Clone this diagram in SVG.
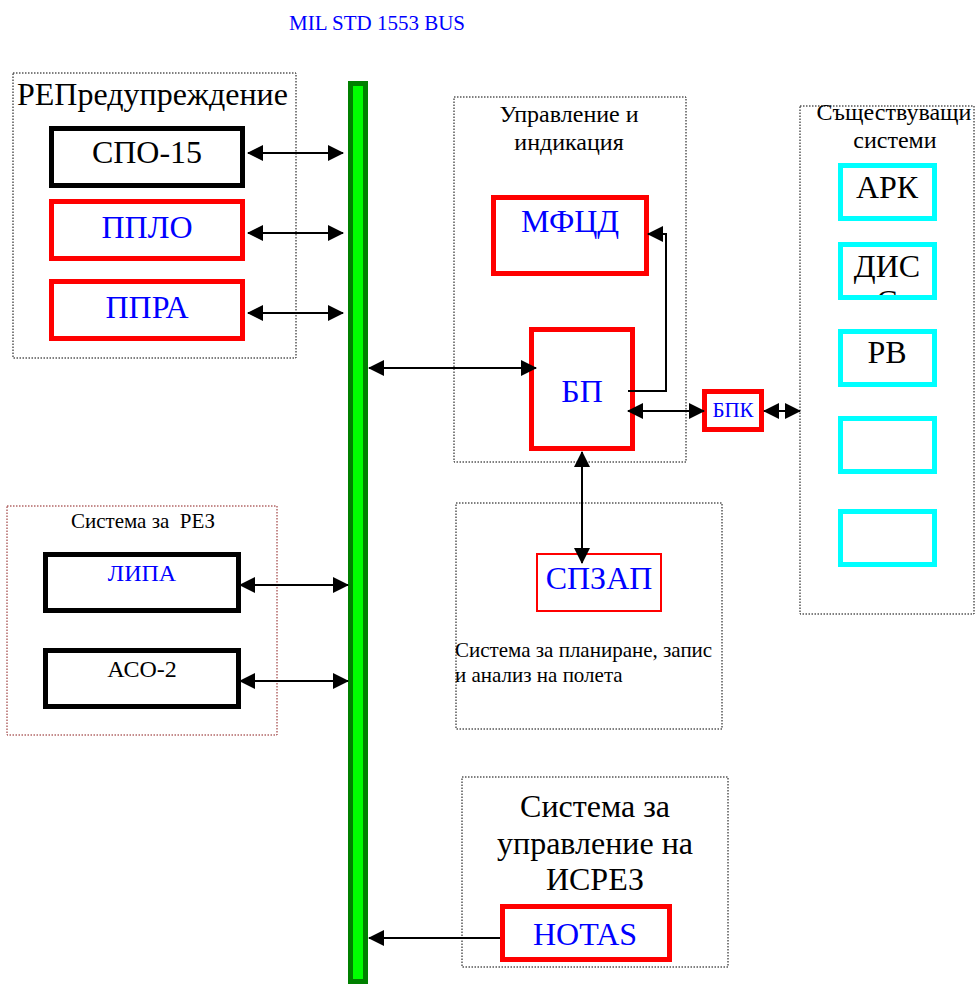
<svg xmlns="http://www.w3.org/2000/svg" width="975" height="985" viewBox="0 0 975 985">
<style>
text{font-family:"Liberation Serif","Times New Roman",serif;}
.grp{fill:none;stroke:#000;stroke-width:1;stroke-dasharray:1.5 1.5;}
.grpr{fill:none;stroke:#8b1a1a;stroke-width:1;stroke-dasharray:1.5 1.5;}
.bk{fill:#fff;stroke:#000;stroke-width:5;}
.rd{fill:#fff;stroke:#f00;stroke-width:5;}
.cy{fill:#fff;stroke:#0ff;stroke-width:5;}
.conn{fill:none;stroke:#000;stroke-width:2;}
.bl{fill:#00f;}
.k{fill:#000;}
.m{text-anchor:middle;}
</style>
<defs>
<marker id="ah" markerUnits="userSpaceOnUse" markerWidth="16" markerHeight="16" viewBox="0 0 16 16" refX="15" refY="8" orient="auto-start-reverse">
<path d="M0,0 L16,8 L0,16 z" fill="#000"/>
</marker>
<clipPath id="disclip"><rect x="843" y="247" width="89" height="48"/></clipPath>
</defs>

<text x="377" y="30" font-size="21" class="bl m">MIL STD 1553 BUS</text>

<g id="bus">
<rect x="350.5" y="83.5" width="15" height="898" fill="#00ff00" stroke="#008000" stroke-width="5"/>
</g>

<g id="rep-group">
<rect class="grp" x="13" y="73" width="283" height="285"/>
<text x="17" y="105" font-size="32" class="k">РЕПредупреждение</text>
</g>
<g id="spo15">
<rect class="bk" x="51.5" y="128.5" width="191" height="57"/>
<text x="147" y="163" font-size="32" class="k m">СПО-15</text>
</g>
<g id="pplo">
<rect class="rd" x="51.5" y="201.5" width="191" height="57"/>
<text x="147" y="238" font-size="32" class="bl m">ППЛО</text>
</g>
<g id="ppra">
<rect class="rd" x="51.5" y="281.5" width="191" height="57"/>
<text x="147" y="318" font-size="32" class="bl m">ППРА</text>
</g>

<g id="ui-group">
<rect class="grp" x="454" y="97" width="232" height="365"/>
<text x="569" y="122" font-size="24" class="k m">Управление и</text>
<text x="569" y="150" font-size="24" class="k m">индикация</text>
</g>
<g id="mfcd">
<rect class="rd" x="493.5" y="197.5" width="153" height="76"/>
<text x="570" y="232" font-size="32" class="bl m">МФЦД</text>
</g>
<g id="bp">
<rect class="rd" x="531.5" y="329.5" width="101" height="119"/>
<text x="582" y="402" font-size="32" class="bl m">БП</text>
</g>
<g id="bpk">
<rect class="rd" x="704.5" y="391.5" width="57" height="38"/>
<text x="733" y="417" font-size="21" class="bl m">БПК</text>
</g>

<g id="existing-group">
<rect class="grp" x="800" y="106" width="174" height="508"/>
<text x="894" y="120" font-size="24" class="k m">Съществуващи</text>
<text x="895" y="148" font-size="24" class="k m">системи</text>
</g>
<g id="ark">
<rect class="cy" x="840.5" y="165.5" width="94" height="53"/>
<text x="887" y="198" font-size="32" class="k m">АРК</text>
</g>
<g id="dis">
<rect class="cy" x="840.5" y="244.5" width="94" height="53"/>
<text x="887" y="277" font-size="32" class="k m">ДИС</text>
<text x="887" y="312" font-size="32" class="k m" clip-path="url(#disclip)">С</text>
</g>
<g id="rv">
<rect class="cy" x="840.5" y="331.5" width="94" height="53"/>
<text x="887" y="363" font-size="32" class="k m">РВ</text>
</g>
<g id="sys4">
<rect class="cy" x="840.5" y="418.5" width="94" height="53"/>
</g>
<g id="sys5">
<rect class="cy" x="840.5" y="511.5" width="94" height="53"/>
</g>

<g id="rez-group">
<rect class="grpr" x="7" y="506" width="270" height="229"/>
<text x="143" y="528" font-size="21" class="k m" xml:space="preserve" style="white-space:pre">Система за  РЕЗ</text>
</g>
<g id="lipa">
<rect class="bk" x="45.5" y="554.5" width="193" height="56"/>
<text x="142" y="581" font-size="24" class="bl m">ЛИПА</text>
</g>
<g id="aso2">
<rect class="bk" x="45.5" y="650.5" width="193" height="56"/>
<text x="142" y="677" font-size="24" class="k m">АСО-2</text>
</g>

<g id="spzap-group">
<rect class="grp" x="456" y="503" width="266" height="226"/>
<text x="455" y="657" font-size="21" class="k">Система за планиране, запис</text>
<text x="455" y="682" font-size="21" class="k">и анализ на полета</text>
</g>
<g id="spzap">
<rect x="537" y="554" width="124" height="57" fill="#fff" stroke="#f00" stroke-width="2"/>
<text x="599" y="589" font-size="32" class="bl m">СПЗАП</text>
</g>

<g id="isrez-group">
<rect class="grp" x="462" y="777" width="266" height="190"/>
<text x="595" y="817" font-size="32" class="k m">Система за</text>
<text x="595" y="854" font-size="32" class="k m">управление на</text>
<text x="595" y="890" font-size="32" class="k m">ИСРЕЗ</text>
</g>
<g id="hotas">
<rect class="rd" x="502.5" y="906.5" width="167" height="53"/>
<text x="585" y="945" font-size="32" class="bl m">HOTAS</text>
</g>

<g id="connectors">
<line class="conn" x1="248" y1="153" x2="343" y2="153" marker-start="url(#ah)" marker-end="url(#ah)"/>
<line class="conn" x1="248" y1="233" x2="343" y2="233" marker-start="url(#ah)" marker-end="url(#ah)"/>
<line class="conn" x1="248" y1="313" x2="343" y2="313" marker-start="url(#ah)" marker-end="url(#ah)"/>
<line class="conn" x1="240" y1="585" x2="348" y2="585" marker-start="url(#ah)" marker-end="url(#ah)"/>
<line class="conn" x1="240" y1="681" x2="348" y2="681" marker-start="url(#ah)" marker-end="url(#ah)"/>
<line class="conn" x1="369" y1="368" x2="536" y2="368" marker-start="url(#ah)" marker-end="url(#ah)"/>
<polyline class="conn" points="628,391 666,391 666,234 648,234" marker-end="url(#ah)"/>
<line class="conn" x1="628" y1="411" x2="704" y2="411" marker-start="url(#ah)" marker-end="url(#ah)"/>
<line class="conn" x1="764" y1="411" x2="800" y2="411" marker-start="url(#ah)" marker-end="url(#ah)"/>
<line class="conn" x1="582" y1="452" x2="582" y2="563" marker-start="url(#ah)" marker-end="url(#ah)"/>
<line class="conn" x1="500" y1="938" x2="369" y2="938" marker-end="url(#ah)"/>
</g>
</svg>
